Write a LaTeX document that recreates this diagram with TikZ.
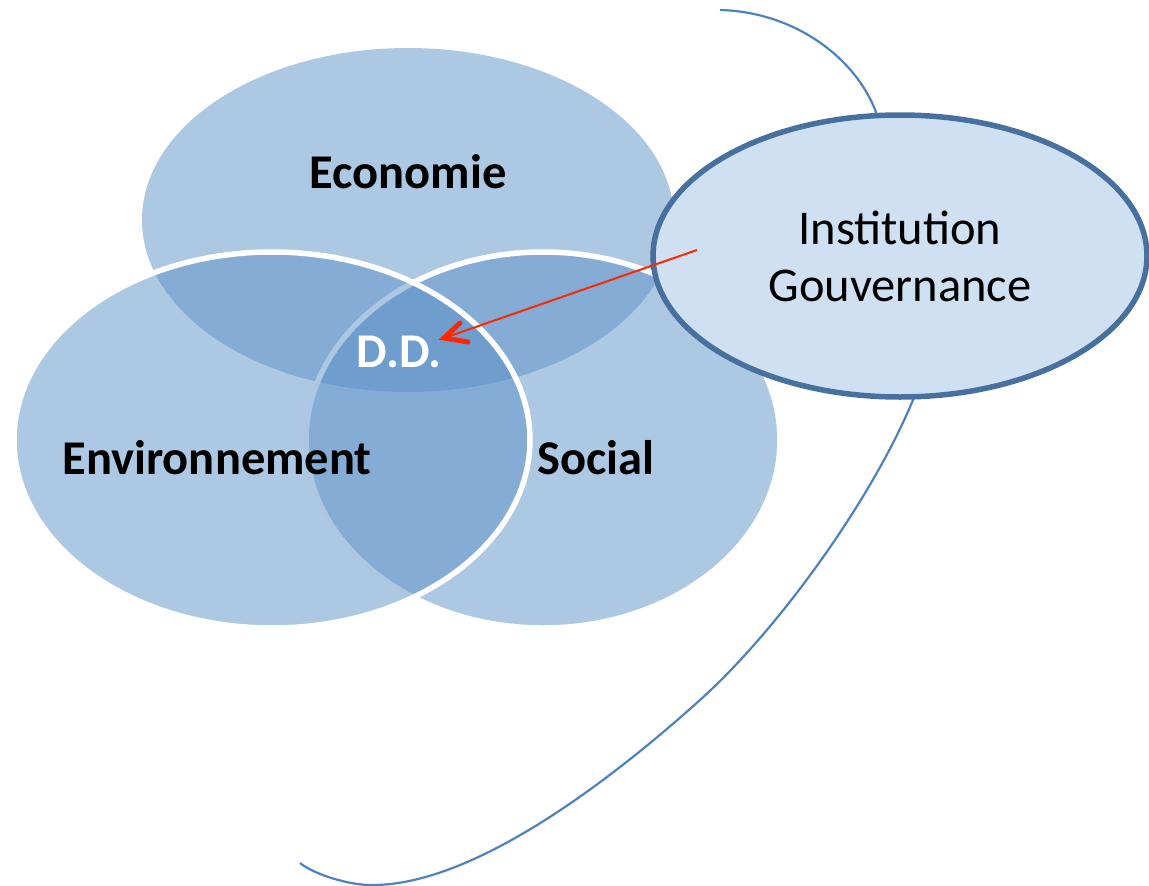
\documentclass[tikz,border=0pt]{standalone}
\usepackage{fontspec}
\setmainfont{Carlito}
\usetikzlibrary{shapes.geometric,calc}
\definecolor{vennblue}{RGB}{91,145,199}
\definecolor{instfill}{RGB}{207,224,242}
\definecolor{instborder}{RGB}{72,112,158}
\definecolor{curveblue}{RGB}{79,129,189}
\definecolor{arrowred}{RGB}{255,38,0}
\begin{document}
\begin{tikzpicture}[x=1pt,y=-1pt,
  venn/.style={ellipse, fill=vennblue, fill opacity=0.5, inner sep=0pt, outer sep=0pt},
  vennline/.style={draw=white, line width=5.5pt, draw opacity=1},
  lbl/.style={font=\fontsize{48.5}{57}\selectfont\bfseries, anchor=base, inner sep=0pt},
  instnode/.style={ellipse, draw=instborder, line width=5.5pt, fill=instfill, inner sep=0pt, outer sep=0pt,
    minimum width=494pt, minimum height=282pt, align=center, font=\fontsize{48.5}{57}\selectfont},
  curveline/.style={draw=curveblue, line width=2.2pt},
  redarrow/.style={draw=arrowred, line width=2pt},
  redhead/.style={draw=arrowred, line width=5pt, line cap=round, line join=miter}
]
\useasboundingbox (0,0) rectangle (1149,886);
% Venn ellipses
\node[venn, minimum width=532pt, minimum height=344pt] (eco) at (408,220) {};
\node[venn, vennline, minimum width=474pt, minimum height=376pt] (soc) at (543,440) {};
\node[venn, vennline, minimum width=516pt, minimum height=376pt] (env) at (272,440) {};
% labels
\node[lbl] (ecolbl) at (408,188) {Economie};
\node[lbl] (envlbl) at (217,474) {Environnement};
\node[lbl] (soclbl) at (596,474) {Social};
\node[lbl, text=white] (dd) at (399,367) {D.D.};
% curve behind institution
\coordinate (curvestart) at (720,10);
\coordinate (curveend) at (300,863);
\draw[curveline] (curvestart) .. controls (800,12) and (865,65) .. (880,125)
  .. controls (895,185) and (945,320) .. (915,395)
  .. controls (875,495) and (780,628) .. (700,700)
  .. controls (630,763) and (480,887) .. (370,885)
  .. controls (350,885) and (315,875) .. (curveend);
% institution
\node[instnode] (inst) at (900,256) {Institution\\Gouvernance};
% arrow
\coordinate (arrowstart) at (697,250);
\coordinate (ddtip) at (444,338);
\draw[redarrow] (arrowstart) -- (ddtip);
\draw[redhead] ($(ddtip)+(16,-15)$) -- (ddtip) -- ($(ddtip)+(24,4)$);
\end{tikzpicture}
\end{document}
